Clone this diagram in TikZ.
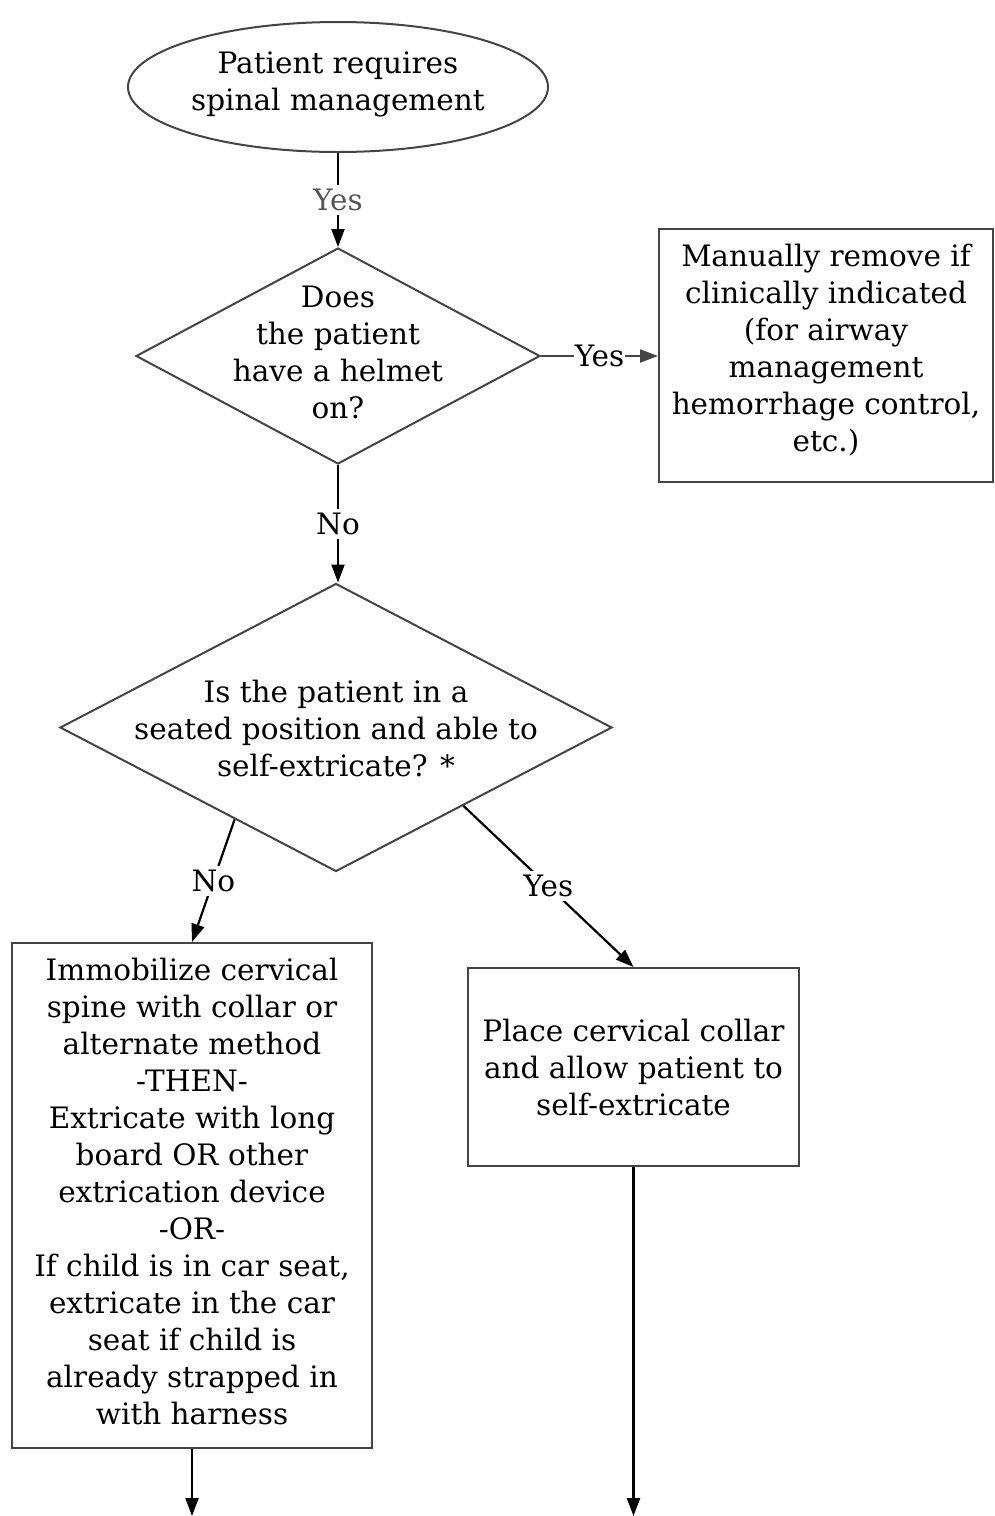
\documentclass[tikz,border=0pt]{standalone}
\usepackage{fontspec}
\setmainfont{DejaVu Serif}
\usetikzlibrary{shapes.geometric,arrows.meta,calc}
\definecolor{shapegray}{HTML}{444444}
\definecolor{labelgray}{HTML}{555555}
\begin{document}
\begin{tikzpicture}[x=1pt,y=-1pt,
  every node/.style={font=\fontsize{29.5}{37}\selectfont, text=black},
  shapebox/.style={draw=shapegray, line width=2pt, inner sep=0pt, align=center},
  conn/.style={line width=2.2pt, draw=black, -{Triangle[length=18pt,width=13pt]}},
  lbl/.style={fill=white, inner xsep=1pt, inner ysep=4pt}
]
\useasboundingbox[fill=white] (0,0) rectangle (995,1516);

\node[ellipse, shapebox, minimum width=420pt, minimum height=130pt] (start) at (338,87) {};
\node[align=center] (startt) at (338,84) {Patient requires\\spinal management};

\node[diamond, shapebox, minimum width=404pt, minimum height=216pt] (d1) at (338,356) {};
\node[align=center] (d1t) at (338,352) {Does\\the patient\\have a helmet\\on?};

\node[rectangle, shapebox, minimum width=334pt, minimum height=253pt] (b1) at (826,355.5) {};
\node[align=center] (b1t) at (826,350)
  {Manually remove if\\clinically indicated\\(for airway\\management\\hemorrhage control,\\etc.)};

\node[diamond, shapebox, minimum width=552pt, minimum height=288pt] (d2) at (336,727.5) {};
\node[align=center] (d2t) at (336,728.5) {Is the patient in a\\seated position and able to\\self-extricate? *};

\node[rectangle, shapebox, minimum width=360pt, minimum height=505pt] (b2) at (192,1195.5) {};
\node[align=center] (b2t) at (192,1191.5)
  {Immobilize cervical\\spine with collar or\\alternate method\\-THEN-\\Extricate with long\\board OR other\\extrication device\\-OR-\\If child is in car seat,\\extricate in the car\\seat if child is\\already strapped in\\with harness};

\node[rectangle, shapebox, minimum width=331pt, minimum height=198pt] (b3) at (633.5,1067)
  {Place cervical collar\\and allow patient to\\self-extricate};

\coordinate (end1) at (192,1516);
\coordinate (end2) at (633.5,1516);

\draw[conn] (start) -- node[lbl, text=labelgray] {Yes} (d1);
\draw[conn, draw=shapegray] (d1.east) -- node[lbl] {Yes} (d1.east -| b1.west);
\draw[conn] (d1.south) -- node[lbl] {No} (d1.south |- d2.north);
\draw[conn] ($(d2.west)!0.634!(d2.south)$) -- node[lbl] {No} (b2.north);
\draw[conn] ($(d2.east)!0.54!(d2.south)$) -- node[lbl] {Yes} (b3.north);
\draw[conn] (b2.south) -- (end1);
\draw[conn] (b3.south) -- (end2);
\end{tikzpicture}
\end{document}
